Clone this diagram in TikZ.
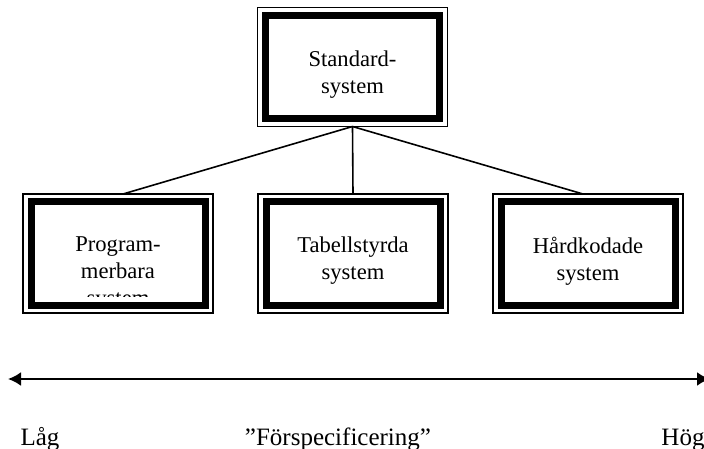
\documentclass[tikz,border=0pt]{standalone}
\usepackage{fontspec}
\setmainfont{Liberation Serif}
\usetikzlibrary{arrows.meta}

\begin{document}
\begin{tikzpicture}[x=1pt, y=-1pt,
    box/.style={draw, line width=7pt, minimum width=174pt, minimum height=103pt, inner sep=0pt, outer sep=0pt},
    txt/.style={align=center, font=\fontsize{22.6}{26.7}\selectfont, inner sep=0pt},
    lbl/.style={font=\fontsize{25}{30}\selectfont, inner sep=0pt},
    frame/.style={line width=1.5pt},
    conn/.style={line width=1.6pt},
    head/.tip={Latex[length=13pt, width=14pt]}]
    \useasboundingbox (0,0) rectangle (704,449);

    \node[box] (std) at (352.5,67) {};
    \node[box] (prg) at (118,253.5) {};
    \node[box] (tab) at (353,253.5) {};
    \node[box] (hrd) at (588,253.5) {};

    % thin outer frames
    \foreach \n in {std,prg,tab,hrd}
        \draw[frame] ([shift={(-8pt,8pt)}]\n.north west) rectangle ([shift={(8pt,-8pt)}]\n.south east);

    \node[txt, anchor=north] (std-t) at ([yshift=-35pt]std.north) {Standard-\\system};
    \begin{scope}
        \clip ([yshift=-4pt]prg.north west) rectangle ([yshift=9pt]prg.south east);
        \node[txt, anchor=north] (prg-t) at ([yshift=-35pt]prg.north) {Program-\\merbara\\system};
    \end{scope}
    \node[txt, anchor=north] (tab-t) at ([yshift=-35pt]tab.north) {Tabellstyrda\\system};
    \node[txt, anchor=north] (hrd-t) at ([yshift=-35pt]hrd.north) {Hårdkodade\\system};

    \path[conn]
        ([yshift=-8pt]std.south) edge ([shift={(5pt,8pt)}]prg.north)
        ([yshift=-8pt]std.south) edge ([yshift=8pt]tab.north)
        ([yshift=-8pt]std.south) edge ([shift={(-5pt,8pt)}]hrd.north)
        ;

    \coordinate (lo) at (8,379);
    \coordinate (hi) at (710,379);
    \draw[line width=2.3pt, head-head] (lo) -- (hi);

    \node[lbl, anchor=base] (low) at (40,445) {Låg};
    \node[lbl, anchor=base] (pre) at (338,445) {”Förspecificering”};
    \node[lbl, anchor=base] (high) at (683,445) {Hög};
\end{tikzpicture}
\end{document}
